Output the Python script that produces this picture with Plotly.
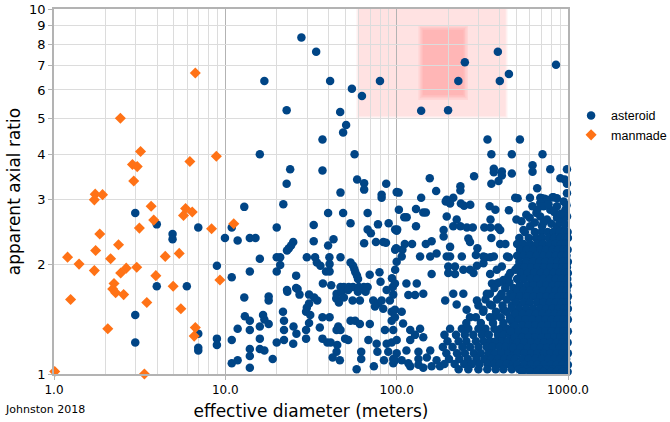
import plotly.graph_objects as go

# ---------------- data ----------------
manmade_d = [6.68, 2.44, 3.2, 2.87, 3.06, 2.92, 6.21, 8.86, 1.74, 1.92, 1.72, 3.69, 5.86, 6.41,
             5.70, 3.82, 3.15, 8.31, 11.2, 1.85, 2.38, 1.75, 5.38, 4.46, 1.20, 2.14, 1.40, 3.04,
             2.64, 1.72, 2.45, 3.93, 9.3, 2.24, 4.96, 2.20, 2.29, 2.55, 1.25, 3.48, 5.5, 6.68,
             2.06, 6.58, 1.01, 3.37]
manmade_ratio = [6.68, 5.02, 4.07, 3.75, 3.70, 3.38, 3.82, 3.95, 3.11, 3.10, 3.0, 2.88, 2.84, 2.78,
                 2.72, 2.64, 2.51, 2.50, 2.58, 2.42, 2.26, 2.18, 2.14, 2.10, 2.09, 2.07, 2.00, 1.96,
                 1.95, 1.92, 1.89, 1.86, 1.81, 1.77, 1.74, 1.71, 1.67, 1.65, 1.60, 1.57, 1.51, 1.34,
                 1.33, 1.27, 1.016, 1.0]

# scattered asteroids: small sizes (1-12 m)
small_pts = [(2.98, 2.76), (3.98, 2.57), (4.92, 2.42), (4.92, 2.34), (6.95, 2.52), (10.9, 2.52),
             (9.95, 2.36), (11.8, 2.32), (8.93, 1.98), (10.9, 1.84), (3.98, 1.74), (5.96, 1.74),
             (2.98, 1.45), (2.98, 1.22), (6.95, 1.29), (6.95, 1.18), (6.95, 1.16), (8.93, 1.25),
             (8.93, 1.20), (10.9, 1.24), (11.8, 1.33), (10.9, 1.07), (11.8, 1.09)]

# scattered asteroids: high axial ratio (upper part of the chart)
upper_pts = [(27.8, 8.36), (33.9, 7.64), (16.9, 6.35), (40.9, 6.35), (54.8, 6.05), (62.7, 5.78),
             (79.9, 6.35), (22.8, 5.28), (46.8, 5.22), (50.7, 4.81), (48.7, 4.59), (36.9, 4.39),
             (15.9, 4.0), (56.8, 4.0), (23.9, 3.64), (36.9, 3.61), (22.8, 3.32), (47.0, 3.14),
             (58.8, 3.41), (64.6, 3.33), (64.6, 3.20), (86.9, 3.32), (81.7, 3.10), (81.7, 3.04),
             (102.7, 3.14), (139, 5.26), (199.6, 5.28), (229, 6.35), (250, 7.15), (389.6, 7.64),
             (400, 6.35), (452, 6.64), (851, 7.03), (156, 3.44), (170, 3.17), (139, 3.04),
             (196, 3.0), (214, 3.04), (235.5, 3.27), (235.5, 3.18), (283, 3.48), (339, 4.39),
             (357, 4.0), (524, 4.39), (470, 4.0), (710, 4.0), (369, 3.65), (369, 3.57),
             (411, 3.59), (411, 3.50), (470, 3.54), (357, 3.32), (393, 3.38), (621, 3.73),
             (621, 3.58), (788, 3.64), (986, 3.64), (903, 3.44), (957, 3.41), (986, 3.32),
             (661, 3.23), (986, 3.13), (492, 3.04), (600, 3.04), (689, 3.04), (730, 3.02),
             (813, 3.05), (862, 3.03)]

# scattered asteroids: 12-100 m, ratio 1.7-3
mid_pts = [(12.9, 2.87), (21.8, 2.92), (100, 3.15), (39.8, 2.76), (48.7, 2.76), (67.7, 2.76),
           (13.9, 2.36), (15.0, 2.36), (19.95, 2.52), (32.8, 2.56), (53.8, 2.59), (77.8, 2.57),
           (89.8, 2.59), (98, 2.49), (67.7, 2.49), (70.7, 2.43), (32.8, 2.31), (42.8, 2.34),
           (39.8, 2.25), (64.6, 2.28), (75.7, 2.30), (83.5, 2.30), (86.6, 2.29), (100, 2.47),
           (98, 2.19), (24.9, 2.30), (24.2, 2.25), (23.5, 2.21), (22.9, 2.18), (15.9, 2.07),
           (19.95, 2.09), (20.9, 2.09), (29.9, 2.09), (33.4, 2.09), (40.5, 2.09), (47.0, 2.09),
           (53.8, 2.02), (55.7, 1.98), (56.6, 1.94), (57.4, 1.90), (58.7, 1.86), (59.5, 1.82),
           (34.2, 2.02), (35.9, 1.98), (38.7, 1.91), (40.6, 1.91), (40.6, 2.00), (20.9, 1.99),
           (19.95, 1.91), (13.9, 1.91), (25.9, 1.86), (37.1, 1.77), (41.5, 1.75), (47.0, 1.73),
           (49.2, 1.73), (52.5, 1.73), (55.6, 1.73), (60.1, 1.73), (64.3, 1.73), (67.7, 1.73),
           (69.6, 1.87), (79.4, 1.90), (80.5, 1.79), (93.9, 1.83), (98, 1.93), (100, 2.03),
           (99.3, 2.21), (22.9, 1.70), (25.9, 1.72)]

# scattered asteroids: 12-100 m, ratio 1.0-1.7
low_pts = [(12.9, 1.62), (17.9, 1.63), (17.9, 1.59), (23.0, 1.68), (26.4, 1.71), (27.1, 1.65),
           (30.8, 1.65), (33.0, 1.62), (34.4, 1.59), (30.8, 1.56), (29.9, 1.52), (29.6, 1.48),
           (31.3, 1.45), (30.8, 1.38), (44.6, 1.66), (47.7, 1.68), (52.1, 1.70), (59.4, 1.68),
           (65.9, 1.68), (61.0, 1.59), (55.3, 1.59), (49.2, 1.62), (44.4, 1.61), (46.0, 1.57),
           (73.0, 1.59), (78.0, 1.56), (81.7, 1.59), (74.7, 1.53), (83.5, 1.51), (93.5, 1.48),
           (91.3, 1.59), (95.5, 1.65), (94.8, 1.73), (87.4, 1.70), (13.9, 1.17), (15.9, 1.25),
           (15.9, 1.17), (16.9, 1.16), (18.9, 1.10), (13.9, 1.12), (13.9, 1.04), (13.0, 1.44),
           (13.9, 1.40), (13.9, 1.32), (15.9, 1.35), (17.9, 1.37), (16.6, 1.45), (16.9, 1.41),
           (19.95, 1.22), (22.0, 1.24), (22.0, 1.32), (22.0, 1.40), (21.7, 1.48), (24.9, 1.21),
           (25.0, 1.35), (26.0, 1.29), (29.6, 1.32), (29.6, 1.25), (35.6, 1.34), (36.9, 1.25),
           (39.4, 1.22), (41.2, 1.22), (45.0, 1.20), (44.6, 1.15), (42.3, 1.11), (46.6, 1.09),
           (36.9, 1.43), (40.6, 1.43), (45.6, 1.35), (44.6, 1.32), (47.0, 1.32), (50.0, 1.25),
           (52.1, 1.24), (53.8, 1.40), (57.2, 1.40), (61.0, 1.37), (69.7, 1.37), (68.4, 1.24),
           (76.4, 1.21), (77.2, 1.15), (87.4, 1.21), (89.3, 1.15), (93.5, 1.22), (95.5, 1.32),
           (93.5, 1.40), (85.4, 1.32), (58.4, 1.03), (62.1, 1.15), (62.1, 1.10), (73.6, 1.05),
           (84.3, 1.09), (95.5, 1.10), (100, 1.14), (95.5, 1.07)]

# scattered asteroids: 100-1000 m, ratio 2-3
big_pts = [(103, 2.82), (129.7, 2.83), (114.4, 2.69), (110.8, 2.69), (143, 2.77), (148, 2.77),
           (193.4, 2.97), (205, 2.93), (237, 2.93), (247.5, 2.89), (269, 2.91), (196, 2.70),
           (224, 2.65), (214, 2.54), (235.5, 2.54), (257, 2.52), (278, 2.52), (325, 2.52),
           (353, 2.52), (391, 2.52), (402, 2.48), (349, 2.88), (377, 2.82), (452, 2.81),
           (353, 2.65), (508, 3.03), (500, 2.65), (535, 2.62), (571, 2.73), (598, 2.68),
           (654, 2.76), (705, 3.03), (754, 3.0), (823, 3.05), (689, 2.94), (720, 2.88),
           (788, 2.82), (862, 2.88), (943, 2.97), (965, 2.82), (987, 2.70), (943, 2.65),
           (862, 2.68), (754, 2.65), (689, 2.70), (705, 2.54), (602, 2.54), (550, 2.48),
           (862, 2.54), (943, 2.48), (987, 2.38), (100.7, 2.49), (129.7, 2.54), (111.6, 2.27),
           (123, 2.27), (108, 2.19), (148, 2.27), (160, 2.31), (171, 2.14), (157, 2.10),
           (137, 2.10), (107, 2.10), (188, 2.48), (188, 2.38), (262, 2.35), (268, 2.30),
           (205, 2.23), (205, 2.10), (240, 2.10), (296, 2.21), (330, 2.09), (352, 2.09),
           (357, 2.36), (402, 2.27), (431, 2.27), (452, 2.09), (196, 2.10), (290, 2.12),
           (321, 2.10), (369, 2.10), (441, 2.10), (640, 2.60), (720, 2.60), (800, 2.58),
           (900, 2.60), (960, 2.57), (660, 2.82), (830, 2.78), (905, 2.75), (980, 2.90),
           (620, 2.88), (770, 2.92)]

# scattered asteroids: 100-500 m, ratio 1.0-2
mixed_pts = [(160, 1.88), (200, 1.97), (219, 1.97), (200, 1.89), (219, 1.88), (245, 1.93),
             (268, 1.93), (294, 1.98), (281, 1.89), (321, 2.01), (351, 1.88), (384, 1.93),
             (411, 1.97), (449, 1.85), (420, 1.81), (384, 1.77), (360, 1.77), (97.7, 1.77),
             (114, 1.77), (131, 1.77), (143, 1.66), (117, 1.645), (128, 1.645), (97.7, 1.50),
             (107, 1.48), (97.7, 1.43), (109, 1.375), (120, 1.32), (137, 1.33), (128, 1.28),
             (143, 1.26), (100, 1.24), (120, 1.24), (114, 1.16), (134, 1.15), (157, 1.16),
             (97.7, 1.09), (107, 1.09), (134, 1.10), (150, 1.11), (171, 1.09), (120, 1.05),
             (143, 1.04), (179, 1.05), (117, 1.07), (134, 1.06), (160, 1.05), (192, 1.59),
             (214, 1.66), (224, 1.55), (245, 1.66), (256, 1.50), (268, 1.43), (294, 1.59),
             (321, 1.50), (336, 1.66), (351, 1.55), (367, 1.43), (402, 1.63), (420, 1.50),
             (430, 1.77), (470, 1.66), (481, 1.43), (460, 1.89), (492, 1.93)]

# dense band of asteroids 185-500 m, ratio 1.0-1.35 (one list of diameters per ratio row)
lowband_ratio = [1.33, 1.28, 1.23, 1.185, 1.14, 1.10, 1.065, 1.03]
lowband_d = [
    [205, 240, 262, 300, 330, 372, 405, 440, 475],
    [190, 222, 250, 280, 315, 345, 390, 420, 458, 490],
    [198, 230, 255, 290, 322, 352, 380, 415, 445, 480],
    [186, 212, 242, 268, 300, 335, 362, 398, 432, 468],
    [195, 225, 250, 282, 310, 345, 375, 410, 450, 485],
    [202, 232, 260, 292, 325, 356, 390, 425, 462],
    [190, 218, 248, 275, 305, 340, 370, 400, 440, 478],
    [230, 262, 300, 338, 378, 420, 470],
]

# band of asteroids 250-500 m, ratio 1.38-1.8
midband_ratio = [1.78, 1.72, 1.66, 1.60, 1.54, 1.48, 1.43, 1.38]
midband_d = [
    [395, 455],
    [372, 430, 480],
    [350, 410, 460],
    [330, 385, 440, 490],
    [300, 360, 415, 470],
    [320, 380, 438, 488],
    [290, 350, 405, 458],
    [255, 310, 365, 420, 475],
]

# dense block of asteroids 500-1000 m, ratio 1.0-2.5
block_ratio = [2.45, 2.36, 2.27, 2.19, 2.11, 2.03, 1.96, 1.89, 1.82, 1.75, 1.69, 1.63, 1.57,
               1.51, 1.46, 1.41, 1.36, 1.31, 1.26, 1.22, 1.18, 1.14, 1.10, 1.06, 1.03, 1.015]
block_d = [
    [560, 640, 700, 760, 820, 890, 955, 995],
    [520, 590, 650, 705, 770, 830, 900, 960, 998],
    [505, 550, 600, 660, 715, 780, 845, 910, 970],
    [525, 575, 630, 690, 745, 810, 875, 940, 995],
    [505, 550, 600, 655, 720, 780, 850, 915, 980],
    [520, 570, 625, 680, 740, 805, 870, 935, 998],
    [508, 555, 610, 665, 725, 790, 855, 925, 985],
    [530, 580, 635, 695, 755, 820, 890, 960, 998],
    [505, 550, 605, 660, 720, 785, 850, 920, 990],
    [522, 575, 630, 690, 750, 815, 880, 950, 998],
    [505, 550, 600, 655, 715, 780, 845, 915, 980],
    [480, 525, 575, 630, 690, 750, 815, 885, 955, 998],
    [500, 550, 600, 660, 720, 785, 850, 920, 985],
    [470, 520, 570, 625, 685, 745, 810, 880, 950, 998],
    [495, 545, 595, 650, 710, 775, 840, 910, 975],
    [460, 515, 565, 620, 680, 740, 805, 875, 945, 998],
    [490, 540, 590, 645, 705, 770, 835, 905, 970],
    [465, 515, 565, 620, 680, 740, 805, 875, 945, 998],
    [490, 540, 590, 645, 705, 770, 835, 905, 970],
    [505, 555, 610, 665, 725, 790, 860, 930, 995],
    [480, 530, 580, 635, 695, 755, 820, 890, 960],
    [505, 555, 610, 665, 725, 790, 860, 930, 998],
    [490, 540, 590, 645, 705, 770, 835, 905, 975],
    [505, 555, 610, 665, 725, 790, 860, 930, 998],
    [520, 570, 625, 685, 745, 810, 880, 950],
    [540, 600, 660, 720, 790, 860, 930, 995],
]

# highlighted regions (diameter range, ratio range)
outer_zone_d = [59, 438]
outer_zone_ratio = [5.05, 10]
inner_zone_d = [138, 253]
inner_zone_ratio = [5.72, 8.9]

x_tickvals = [1, 10, 100, 1000]
x_ticktext = ["1.0", "10.0", "100.0", "1000.0"]
y_tickvals = [1, 2, 3, 4, 5, 6, 7, 8, 9, 10]
x_minor = [2, 3, 4, 5, 6, 7, 8, 9, 20, 30, 40, 50, 60, 70, 80, 90,
           200, 300, 400, 500, 600, 700, 800, 900]

# ---------------- assemble asteroid series ----------------
ast_d, ast_r = [], []
for pts in (small_pts, upper_pts, mid_pts, low_pts, big_pts, mixed_pts):
    for d, r in pts:
        ast_d.append(d)
        ast_r.append(r)
for ratios, rows in ((lowband_ratio, lowband_d), (midband_ratio, midband_d), (block_ratio, block_d)):
    for r, row in zip(ratios, rows):
        for d in row:
            ast_d.append(d)
            ast_r.append(r)

BLUE = "#004586"
ORANGE = "#ff7216"
FONT = "DejaVu Sans"

fig = go.Figure()
fig.add_trace(go.Scatter(x=ast_d, y=ast_r, mode="markers", name="asteroid",
                         marker=dict(symbol="circle", size=8.5, color=BLUE, line=dict(width=0)),
                         cliponaxis=False))
fig.add_trace(go.Scatter(x=manmade_d, y=manmade_ratio, mode="markers", name="manmade",
                         marker=dict(symbol="diamond", size=8.5, color=ORANGE, line=dict(width=0)),
                         cliponaxis=False))

# soft-edged highlight rectangles (layers to mimic blur)
def soft_rect(dr, rr, alpha, shrink_steps):
    for f in shrink_steps:
        x0 = dr[0] * f
        x1 = dr[1] / f
        y0 = rr[0] * f ** 0.5
        y1 = rr[1] / (f ** 0.5 if rr[1] < 10 else 1.0)
        fig.add_shape(type="rect", xref="x", yref="y", x0=x0, x1=x1, y0=y0, y1=y1,
                      fillcolor=f"rgba(255,70,70,{alpha})", line=dict(width=0), layer="below")

soft_rect(outer_zone_d, outer_zone_ratio, 0.055, [0.985, 1.0, 1.015])
soft_rect(inner_zone_d, inner_zone_ratio, 0.075, [0.97, 0.99, 1.01, 1.03])

fig.update_layout(
    width=670, height=422,
    margin=dict(l=54, r=102, t=9, b=48, autoexpand=False),
    paper_bgcolor="white", plot_bgcolor="white",
    font=dict(family=FONT, size=12, color="black"),
    showlegend=True,
    legend=dict(x=1.006, y=0.748, xanchor="left", yanchor="top",
                font=dict(family="Liberation Sans", size=12.5, color="black"),
                bgcolor="rgba(0,0,0,0)", itemwidth=30, tracegroupgap=0),
    xaxis=dict(type="log", range=[0, 3], tickvals=x_tickvals, ticktext=x_ticktext,
               showgrid=True, gridcolor="#b3b3b3", gridwidth=1,
               minor=dict(tickvals=x_minor, showgrid=True, gridcolor="#dcdcdc", gridwidth=1,
                          ticks=""),
               showline=True, linecolor="#b3b3b3", linewidth=1.5, mirror=True,
               ticks="outside", ticklen=4, tickcolor="#b3b3b3",
               tickfont=dict(family=FONT, size=12, color="black"),
               zeroline=False, automargin=False,
               title=dict(text="effective diameter (meters)", standoff=9,
                          font=dict(family=FONT, size=17, color="black"))),
    yaxis=dict(type="log", range=[0, 1], tickvals=y_tickvals,
               ticktext=[str(v) for v in y_tickvals],
               showgrid=True, gridcolor="#dcdcdc", gridwidth=1,
               showline=True, linecolor="#b3b3b3", linewidth=1.5, mirror=True,
               ticks="outside", ticklen=4, tickcolor="#b3b3b3",
               tickfont=dict(family=FONT, size=13, color="black"),
               zeroline=False, automargin=False,
               title=dict(text="apparent axial ratio", standoff=4,
                          font=dict(family=FONT, size=17, color="black"))),
    annotations=[dict(text="Johnston 2018", xref="paper", yref="paper", x=-0.099, y=-0.096,
                      xanchor="left", yanchor="middle", showarrow=False,
                      font=dict(family=FONT, size=11, color="black"))],
)

# the page body has a default 8px margin; remove it so the 670x422 figure fills the window
fig.write_html("out.html", config={"displayModeBar": False},
               post_script="document.body.style.margin='0';")
